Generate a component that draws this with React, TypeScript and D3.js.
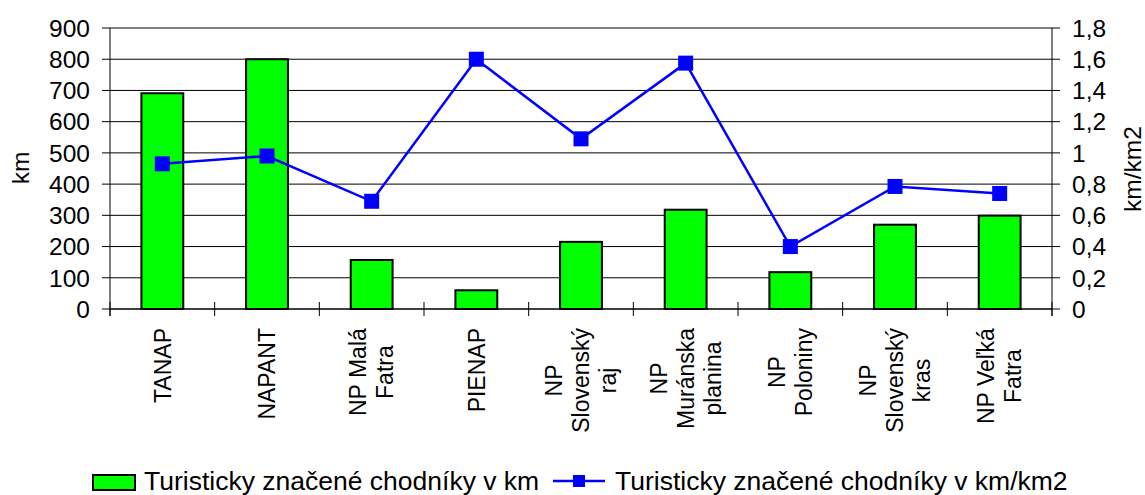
import React from "react";
import * as d3 from "d3";

const categories: string[][] = [
  ["TANAP"],
  ["NAPANT"],
  ["NP Malá", "Fatra"],
  ["PIENAP"],
  ["NP", "Slovenský", "raj"],
  ["NP", "Muránska", "planina"],
  ["NP", "Poloniny"],
  ["NP", "Slovenský", "kras"],
  ["NP Veľká", "Fatra"],
];
const kmValues: number[] = [691, 800, 157, 60, 215, 318, 118, 270, 299];
const densityValues: number[] = [0.93, 0.98, 0.69, 1.6, 1.09, 1.575, 0.4, 0.785, 0.74];
const leftTicks: number[] = [0, 100, 200, 300, 400, 500, 600, 700, 800, 900];
const rightTicks: number[] = [0, 0.2, 0.4, 0.6, 0.8, 1, 1.2, 1.4, 1.6, 1.8];
const seriesBarName = "Turisticky značené chodníky v km";
const seriesLineName = "Turisticky značené chodníky v km/km2";
const leftTitle = "km";
const rightTitle = "km/km2";

const W = 1145;
const H = 495;
const FONT = "'Liberation Sans', Arial, sans-serif";
const L = 110;
const R = 1052;
const T = 28;
const B = 309;

function measure(text: string, size: number): number {
  if (typeof document === "undefined") return text.length * size * 0.55;
  const c = document.createElement("canvas");
  const ctx = c.getContext("2d");
  if (!ctx) return text.length * size * 0.55;
  ctx.font = `${size}px ${FONT}`;
  return ctx.measureText(text).width;
}

export default function App() {
  const keys = categories.map((c) => c.join(" "));
  const x = d3.scaleBand<string>().domain(keys).range([L, R]).paddingInner(0).paddingOuter(0);
  const yL = d3.scaleLinear().domain([0, 900]).range([B, T]);
  const yR = d3.scaleLinear().domain([0, 1.8]).range([B, T]);
  const bw = x.bandwidth();
  const barW = bw * 0.4;
  const line = d3
    .line<number>()
    .x((_, i) => (x(keys[i]) as number) + bw / 2)
    .y((d) => yR(d));

  const tickFont = 24.5;
  const catFont = 23;
  const legFont = 26.5;
  const lineH = 27;
  const labelTop = 328;
  const boundaries = d3.range(keys.length + 1).map((i) => L + i * bw);

  return (
    <svg
      width={W}
      height={H}
      style={{ position: "absolute", left: 0, top: 0, background: "#fff" }}
      fontFamily={FONT}
    >
      {/* gridlines */}
      {leftTicks.map((t) => (
        <line key={"g" + t} x1={L} x2={R} y1={yL(t)} y2={yL(t)} stroke="#000" strokeWidth={1} />
      ))}
      {/* bars */}
      {kmValues.map((v, i) => (
        <rect
          key={"b" + i}
          x={(x(keys[i]) as number) + (bw - barW) / 2}
          y={yL(v)}
          width={barW}
          height={B - yL(v)}
          fill="#00FF00"
          stroke="#000"
          strokeWidth={2}
        />
      ))}
      {/* left axis */}
      <line x1={L} x2={L} y1={T} y2={B + 7} stroke="#000" strokeWidth={1} />
      {leftTicks.map((t) => (
        <g key={"lt" + t}>
          <line x1={L - 8} x2={L} y1={yL(t)} y2={yL(t)} stroke="#000" />
          <text x={L - 20} y={yL(t)} dy="0.36em" textAnchor="end" fontSize={tickFont}>
            {t}
          </text>
        </g>
      ))}
      {/* right axis */}
      <line x1={R} x2={R} y1={T} y2={B + 7} stroke="#000" strokeWidth={1} />
      {rightTicks.map((t) => (
        <g key={"rt" + t}>
          <line x1={R} x2={R + 8} y1={yR(t)} y2={yR(t)} stroke="#000" />
          <text x={R + 20} y={yR(t)} dy="0.36em" textAnchor="start" fontSize={tickFont}>
            {String(t).replace(".", ",")}
          </text>
        </g>
      ))}
      {/* bottom axis */}
      <line x1={L} x2={R} y1={B} y2={B} stroke="#000" strokeWidth={1} />
      {boundaries.map((bx, i) => (
        <line key={"bt" + i} x1={bx} x2={bx} y1={B - 7} y2={B + 7} stroke="#000" />
      ))}
      {/* category labels */}
      {categories.map((lines, i) => {
        const cx = (x(keys[i]) as number) + bw / 2;
        const maxW = Math.max(...lines.map((l) => measure(l, catFont)));
        const cy = labelTop + maxW / 2;
        return (
          <g key={"c" + i}>
            {lines.map((ln, j) => {
              const lx = cx + (j - (lines.length - 1) / 2) * lineH;
              return (
                <text
                  key={j}
                  transform={`translate(${lx},${cy}) rotate(-90)`}
                  textAnchor="middle"
                  dy="0.36em"
                  fontSize={catFont}
                >
                  {ln}
                </text>
              );
            })}
          </g>
        );
      })}
      {/* line series */}
      <path d={line(densityValues) || ""} fill="none" stroke="#0000FF" strokeWidth={2.5} />
      {densityValues.map((v, i) => (
        <rect
          key={"m" + i}
          x={(x(keys[i]) as number) + bw / 2 - 7.5}
          y={yR(v) - 7.5}
          width={15}
          height={15}
          fill="#0000FF"
        />
      ))}
      {/* axis titles */}
      <text transform={`translate(20,168) rotate(-90)`} textAnchor="middle" dy="0.36em" fontSize={tickFont}>
        {leftTitle}
      </text>
      <text transform={`translate(1132,169) rotate(-90)`} textAnchor="middle" dy="0.36em" fontSize={tickFont}>
        {rightTitle}
      </text>
      {/* legend */}
      <rect x={93} y={475} width={42} height={15} fill="#00FF00" stroke="#000" strokeWidth={2} />
      <text x={144} y={489.5} fontSize={legFont}>
        {seriesBarName}
      </text>
      <line x1={553} x2={605} y1={481} y2={481} stroke="#0000FF" strokeWidth={2.5} />
      <rect x={573} y={475} width={12} height={12} fill="#0000FF" />
      <text x={615} y={489.5} fontSize={legFont}>
        {seriesLineName}
      </text>
    </svg>
  );
}
